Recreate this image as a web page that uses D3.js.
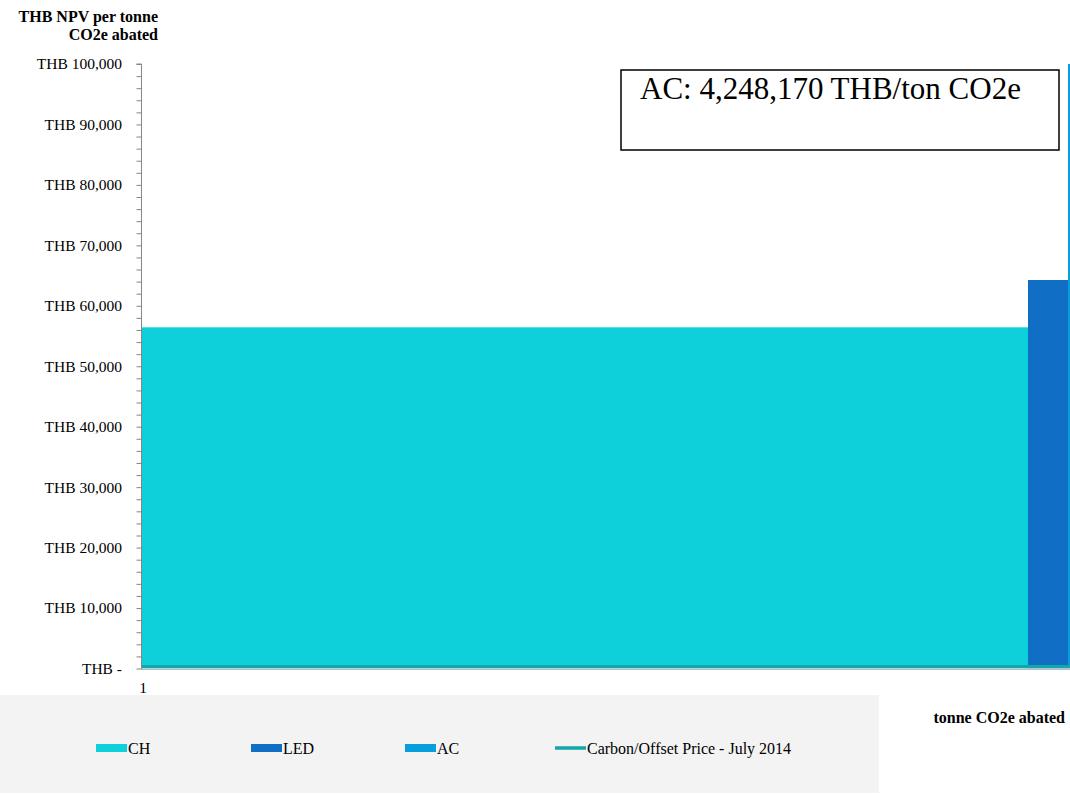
<!DOCTYPE html>
<html>
<head>
<meta charset="utf-8">
<script src="https://cdn.jsdelivr.net/npm/d3@7"></script>
<style>
  html, body { margin: 0; padding: 0; background: #fff; }
  svg { display: block; }
  text { font-family: "Liberation Serif", "Times New Roman", serif; fill: #000; }
</style>
</head>
<body>
<svg id="chart" width="1070" height="794"></svg>
<script>
// Abatement measures: cost per tonne (THB) and tonnes abated (bar width)
const measures = ["CH", "LED", "AC"];
const costPerTonne = [56440, 64270, 4248170];
const tonnesAbated = [22.15, 1.0, 0.05];
const colors = ["#0dd0da", "#116ec5", "#069fdb"];

// Reference carbon/offset price
const carbonLabel = "Carbon/Offset Price - July 2014";
const carbonPrice = 300;
const carbonColor = "#13a6aa";

// Axis ticks
const yTicks = [0, 10000, 20000, 30000, 40000, 50000, 60000, 70000, 80000, 90000, 100000];
const xTickLabels = ["1"];

const svg = d3.select("#chart");
const plot = { left: 142, right: 1070, top: 64, bottom: 668.5 };

const totalTonnes = d3.sum(tonnesAbated);
const x = d3.scaleLinear().domain([0, totalTonnes]).range([plot.left, plot.right]);
const y = d3.scaleLinear().domain([0, 100000]).range([plot.bottom, plot.top]);

// cumulative start of each bar
let acc = 0;
const bars = measures.map((m, i) => {
  const b = { name: m, start: acc, width: tonnesAbated[i], cost: costPerTonne[i], color: colors[i] };
  acc += tonnesAbated[i];
  return b;
});

svg.append("defs").append("clipPath").attr("id", "plotClip")
  .append("rect")
  .attr("x", plot.left).attr("y", plot.top)
  .attr("width", plot.right - plot.left).attr("height", plot.bottom - plot.top);

const g = svg.append("g").attr("clip-path", "url(#plotClip)");

g.selectAll("rect.bar").data(bars).enter().append("rect")
  .attr("class", "bar")
  .attr("x", d => x(d.start))
  .attr("width", d => Math.max(1.5, x(d.start + d.width) - x(d.start)))
  .attr("y", d => y(d.cost))
  .attr("height", d => y(0) - y(d.cost))
  .attr("fill", d => d.color);

// carbon price line
g.append("line")
  .attr("x1", plot.left).attr("x2", plot.right)
  .attr("y1", y(carbonPrice)).attr("y2", y(carbonPrice))
  .attr("stroke", carbonColor).attr("stroke-width", 3.5);

// Y axis
const yAxis = d3.axisLeft(y)
  .tickValues(d3.range(0, 100001, 2000))
  .tickSize(5)
  .tickFormat("");
const yAxisG = svg.append("g").attr("transform", `translate(${plot.left - 0.5},0)`).call(yAxis);
yAxisG.select(".domain").attr("stroke", "#868686").attr("d", `M-5,${y(100000)}H0V${plot.bottom + 1}`);
yAxisG.selectAll(".tick line").attr("stroke", "#868686");

const fmt = d3.format(",");
svg.append("g").selectAll("text").data(yTicks).enter().append("text")
  .attr("x", 122)
  .attr("y", d => y(d))
  .attr("dy", "0.35em")
  .attr("text-anchor", "end")
  .style("font-size", "15.5px")
  .text(d => d === 0 ? "THB -" : "THB " + fmt(d));

// X axis
svg.append("line")
  .attr("x1", plot.left - 0.5).attr("x2", plot.right)
  .attr("y1", plot.bottom + 1).attr("y2", plot.bottom + 1)
  .attr("stroke", "#bdbdbd").attr("stroke-width", 1);

svg.append("g").selectAll("text").data(xTickLabels).enter().append("text")
  .attr("x", (d, i) => x(bars[i].start) + 1)
  .attr("y", 693)
  .attr("text-anchor", "middle")
  .style("font-size", "15.5px")
  .text(d => d);

// Axis titles
const yTitle = svg.append("text")
  .attr("text-anchor", "end")
  .style("font-size", "16px").style("font-weight", "bold");
yTitle.append("tspan").attr("x", 158).attr("y", 22).text("THB NPV per tonne");
yTitle.append("tspan").attr("x", 158).attr("y", 40).text("CO2e abated");

svg.append("text")
  .attr("x", 1065).attr("y", 723)
  .attr("text-anchor", "end")
  .style("font-size", "16px").style("font-weight", "bold")
  .text("tonne CO2e abated");

// Annotation for the off-scale AC bar
svg.append("rect")
  .attr("x", 621).attr("y", 70).attr("width", 438).attr("height", 80)
  .attr("fill", "#fff").attr("stroke", "#000").attr("stroke-width", 1.5);
svg.append("text")
  .attr("x", 640).attr("y", 99)
  .style("font-size", "31px")
  .text("AC: " + fmt(costPerTonne[2]) + " THB/ton CO2e");

// Legend
svg.append("rect")
  .attr("x", 0).attr("y", 695).attr("width", 879).attr("height", 98)
  .attr("fill", "#f3f3f3");

const legendItems = measures.map((m, i) => ({ label: m, color: colors[i], type: "box" }))
  .concat([{ label: carbonLabel, color: carbonColor, type: "line" }]);
const legendX = [96, 251, 405, 555];
const lg = svg.append("g").selectAll("g").data(legendItems).enter().append("g")
  .attr("transform", (d, i) => `translate(${legendX[i]},748)`);
lg.filter(d => d.type === "box").append("rect")
  .attr("x", 0).attr("y", -4).attr("width", 31).attr("height", 8)
  .attr("fill", d => d.color);
lg.filter(d => d.type === "line").append("line")
  .attr("x1", 0).attr("x2", 31).attr("y1", 0).attr("y2", 0)
  .attr("stroke", d => d.color).attr("stroke-width", 3.5);
lg.append("text")
  .attr("x", 32).attr("y", 0).attr("dy", "0.35em")
  .style("font-size", "16px")
  .text(d => d.label);
</script>
</body>
</html>
